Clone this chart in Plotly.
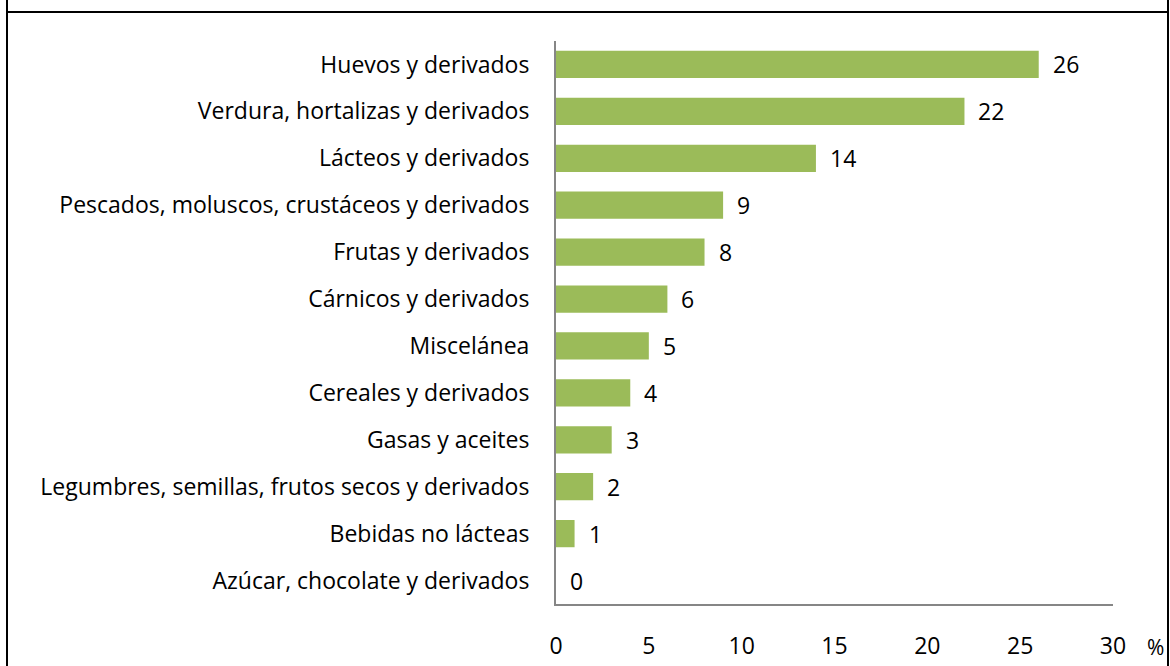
import plotly.graph_objects as go

# grupos de alimentos (orden de arriba a abajo) y porcentaje
grupos = [
    "Huevos y derivados",
    "Verdura, hortalizas y derivados",
    "Lácteos y derivados",
    "Pescados, moluscos, crustáceos y derivados",
    "Frutas y derivados",
    "Cárnicos y derivados",
    "Miscelánea",
    "Cereales y derivados",
    "Gasas y aceites",
    "Legumbres, semillas, frutos secos y derivados",
    "Bebidas no lácteas",
    "Azúcar, chocolate y derivados",
]
porcentajes = [26, 22, 14, 9, 8, 6, 5, 4, 3, 2, 1, 0]
ticks_x = [0, 5, 10, 15, 20, 25, 30]

W, H = 1170, 666
ML, MR, MT, MB = 556, 57, 41, 62
pw, ph = W - ML - MR, H - MT - MB

def px_x(x):
    return (x - ML) / pw

def px_y(y):
    return (H - MB - y) / ph

fuente = "Open Sans"
tam = 23

fig = go.Figure(
    go.Bar(
        x=porcentajes,
        y=grupos,
        orientation="h",
        marker_color="#9BBB59",
        marker_line_width=0,
        hoverinfo="x+y",
    )
)

# etiquetas de valor a la derecha de cada barra
for g, v in zip(grupos, porcentajes):
    fig.add_annotation(
        x=v, y=g, text=str(v), showarrow=False,
        xanchor="left", xshift=12,
        font=dict(family=fuente, size=tam, color="#000000"),
    )

fig.add_annotation(
    x=px_x(1155), y=px_y(647), xref="paper", yref="paper",
    xanchor="center", yanchor="middle",
    text="%", showarrow=False,
    font=dict(family=fuente, size=21, color="#000000"),
)

# marco de la tabla
linea = dict(color="#000000", width=2)
fig.add_shape(type="line", xref="paper", yref="paper",
              x0=px_x(7), x1=px_x(7), y0=px_y(0), y1=px_y(H), line=linea)
fig.add_shape(type="line", xref="paper", yref="paper",
              x0=px_x(1168), x1=px_x(1168), y0=px_y(0), y1=px_y(H), line=linea)
fig.add_shape(type="line", xref="paper", yref="paper",
              x0=px_x(7), x1=px_x(1168), y0=px_y(12), y1=px_y(12), line=linea)

fig.update_layout(
    width=W, height=H,
    margin=dict(l=ML, r=MR, t=MT, b=MB),
    paper_bgcolor="white",
    plot_bgcolor="white",
    bargap=0.42,
    showlegend=False,
    font=dict(family=fuente, size=tam, color="#000000"),
    xaxis=dict(
        range=[0, 30],
        tickvals=ticks_x,
        showgrid=False,
        zeroline=False,
        showline=True,
        linecolor="#868686",
        linewidth=2,
        ticks="",
        ticklabelstandoff=20,
        automargin=False,
        tickfont=dict(family=fuente, size=tam, color="#000000"),
    ),
    yaxis=dict(
        autorange="reversed",
        showgrid=False,
        zeroline=False,
        showline=True,
        linecolor="#868686",
        linewidth=2,
        ticks="",
        ticklabelstandoff=20,
        automargin=False,
        tickfont=dict(family=fuente, size=tam, color="#000000"),
    ),
)

# quitar el margen por defecto del body para que la figura empiece en (0, 0)
fig.write_html(
    "out.html",
    config={"displayModeBar": False},
    post_script="document.body.style.margin='0px';",
)
